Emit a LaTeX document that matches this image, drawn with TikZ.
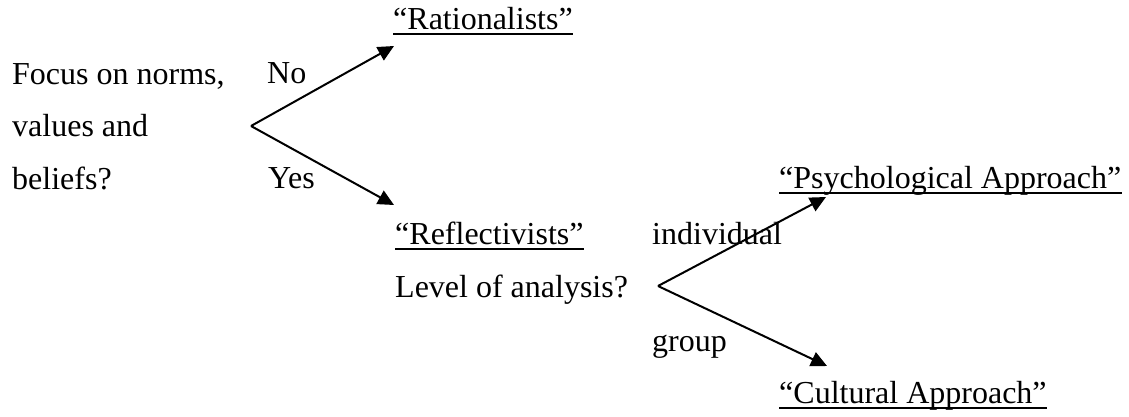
\documentclass[tikz,border=0pt]{standalone}
\usepackage{fontspec}
\setmainfont{Liberation Serif}
\usetikzlibrary{arrows.meta}
\begin{document}
\begin{tikzpicture}[x=1pt,y=-1pt,
  txt/.style={anchor=base west,inner sep=0pt,font=\fontsize{32}{38}\selectfont},
  arr/.style={line width=2pt,-{Triangle[length=16pt,width=15pt]}},
  ul/.style={line width=2pt}]
\useasboundingbox (0,0) rectangle (1129,416);
\node[txt] (focus) at (12,84) {Focus on norms,};
\node[txt] (values) at (12,136) {values and};
\node[txt] (beliefs) at (12,189) {beliefs?};
\node[txt] (no) at (267,83) {No};
\node[txt] (yes) at (268,188) {Yes};
\node[txt] (rat) at (393,29) {“Rationalists”};
\node[txt] (refl) at (395,244) {“Reflectivists”};
\node[txt] (level) at (395,297) {Level of analysis?};
\node[txt] (indiv) at (652,244) {individual};
\node[txt] (group) at (652,351) {group};
\node[txt] (psy) at (779,188) {“Psychological Approach”};
\node[txt] (cult) at (779,403) {“Cultural Approach”};
\draw[ul] ([yshift=-4.5pt]rat.base west) -- ([yshift=-4.5pt]rat.base east);
\draw[ul] ([yshift=-4.5pt]refl.base west) -- ([yshift=-4.5pt]refl.base east);
\draw[ul] ([yshift=-4.5pt]psy.base west) -- ([yshift=-4.5pt]psy.base east);
\draw[ul] ([yshift=-4.5pt]cult.base west) -- ([yshift=-4.5pt]cult.base east);
\coordinate (a1) at (251,126);
\coordinate (t1) at (394,46);
\coordinate (t2) at (394,205);
\coordinate (a2) at (658,286);
\coordinate (t3) at (826,197);
\coordinate (t4) at (827,366);
\draw[arr] (a1) -- (t1);
\draw[arr] (a1) -- (t2);
\draw[arr] (a2) -- (t3);
\draw[arr] (a2) -- (t4);
\end{tikzpicture}
\end{document}
